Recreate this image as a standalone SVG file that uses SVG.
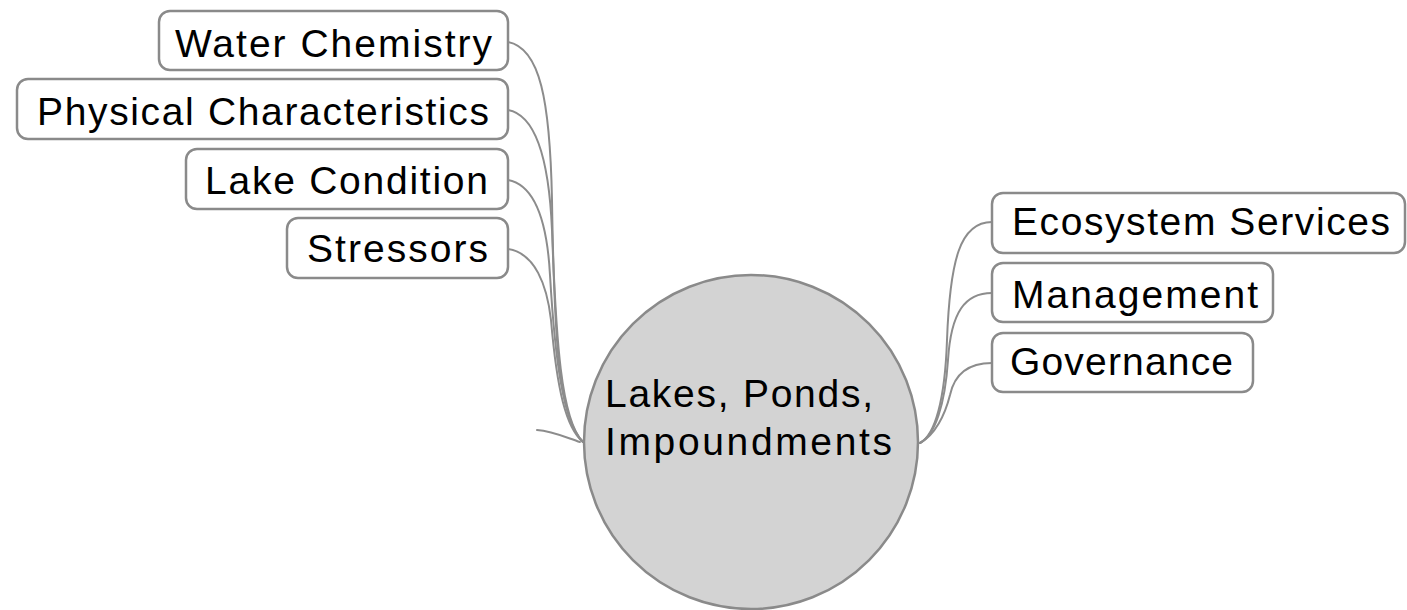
<svg xmlns="http://www.w3.org/2000/svg" width="1407" height="610" viewBox="0 0 1407 610">
  <style>
    .box { fill: #ffffff; stroke: #8a8a8a; stroke-width: 2.5; }
    .hub { fill: #d3d3d3; stroke: #8a8a8a; stroke-width: 2.5; }
    .label { font-family: "Liberation Sans", Arial, sans-serif; font-size: 39px; fill: #000000; }
    .link { fill: none; stroke: #8c8c8c; stroke-width: 2; stroke-linecap: round; }
  </style>
  <rect width="1407" height="610" fill="#ffffff"/>

  <!-- branch connectors -->
  <g id="connectors">
    <path class="link" d="M508,42 C540,48 550,100 552,200 C554,330 558,420 583,442"/>
    <path class="link" d="M508,110 C536,115 549,160 552,230 C556,340 561,420 583,442"/>
    <path class="link" d="M508,180 C535,185 547,220 550,275 C555,360 563,422 583,442"/>
    <path class="link" d="M508,249 C535,253 547,285 551,320 C557,390 566,428 583,442"/>
    <path class="link" d="M537,430 C552,431 565,437 580,442"/>
    <path class="link" d="M920,443 C935,435 945,400 947,340 C950,260 960,222 992,222"/>
    <path class="link" d="M920,443 C935,435 945,405 948,360 C951,312 965,293 992,293"/>
    <path class="link" d="M920,443 C935,435 945,415 950,395 C955,372 970,363 992,363"/>
  </g>

  <!-- central topic -->
  <g id="node-lakes">
    <circle class="hub" cx="751" cy="442" r="167"/>
    <text class="label" x="605" y="407" textLength="268" lengthAdjust="spacing">Lakes, Ponds,</text>
    <text class="label" x="605" y="455" textLength="287" lengthAdjust="spacing">Impoundments</text>
  </g>

  <!-- left branches -->
  <g id="node-water-chemistry">
    <rect class="box" x="159" y="11" width="349" height="59" rx="11"/>
    <text class="label" x="175" y="57" textLength="317" lengthAdjust="spacing">Water Chemistry</text>
  </g>
  <g id="node-physical-characteristics">
    <rect class="box" x="17" y="79" width="491" height="60" rx="11"/>
    <text class="label" x="37" y="125" textLength="452" lengthAdjust="spacing">Physical Characteristics</text>
  </g>
  <g id="node-lake-condition">
    <rect class="box" x="186" y="149" width="322" height="60" rx="11"/>
    <text class="label" x="205" y="194" textLength="283" lengthAdjust="spacing">Lake Condition</text>
  </g>
  <g id="node-stressors">
    <rect class="box" x="287" y="218" width="221" height="60" rx="11"/>
    <text class="label" x="307" y="262" textLength="181" lengthAdjust="spacing">Stressors</text>
  </g>

  <!-- right branches -->
  <g id="node-ecosystem-services">
    <rect class="box" x="992" y="193" width="413" height="60" rx="11"/>
    <text class="label" x="1012" y="235" textLength="378" lengthAdjust="spacing">Ecosystem Services</text>
  </g>
  <g id="node-management">
    <rect class="box" x="992" y="263" width="281" height="59" rx="11"/>
    <text class="label" x="1012" y="308" textLength="246" lengthAdjust="spacing">Management</text>
  </g>
  <g id="node-governance">
    <rect class="box" x="992" y="333" width="261" height="59" rx="11"/>
    <text class="label" x="1010" y="375" textLength="223" lengthAdjust="spacing">Governance</text>
  </g>
</svg>
